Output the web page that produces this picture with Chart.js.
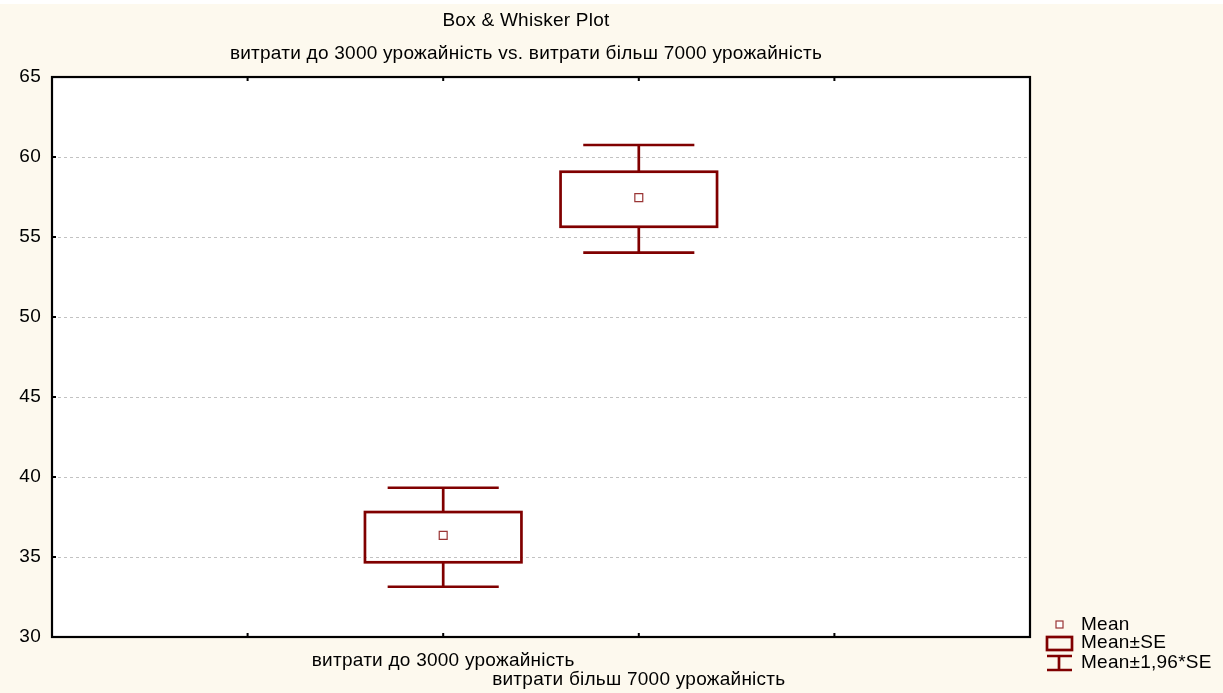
<!DOCTYPE html>
<html><head><meta charset="utf-8">
<script src="https://cdn.jsdelivr.net/npm/chart.js@4.4.1/dist/chart.umd.min.js"></script>
<style>html,body{margin:0;padding:0;background:#fdf9ee;overflow:hidden}#wrap{width:1223px;height:693px}</style>
</head><body><div id="wrap"><canvas id="c"></canvas></div>
<script>
// ---- data ----
const categories = ['витрати до 3000 урожайність', 'витрати більш 7000 урожайність'];
const categoryPositions = [2, 3];
const means  = [36.35, 57.46];
const seLow  = [34.67, 55.64];
const seHigh = [37.81, 59.08];
const ciLow  = [33.14, 54.02];
const ciHigh = [39.33, 60.75];
const yTicks = [30, 35, 40, 45, 50, 55, 60, 65];
const xTicks = [1, 2, 3, 4];
const titleLines = ['Box & Whisker Plot', 'витрати до 3000 урожайність vs. витрати більш 7000 урожайність'];
const legendLabels = ['Mean', 'Mean±SE', 'Mean±1,96*SE'];

// ---- style ----
const RED = '#800000';
const MARK = '#9a3535';
const FONT = "'Liberation Sans', Arial, sans-serif";
const FS = 19;
const BOX_HALF = 0.40, CAP_HALF = 0.284;

const bgPlugin = {
  id: 'bg',
  beforeDraw(chart) {
    const {ctx, chartArea: a} = chart;
    ctx.fillStyle = '#fdf9ee';
    ctx.fillRect(0, 0, chart.width, chart.height);
    ctx.fillStyle = '#ffffff';
    ctx.fillRect(0, 0, chart.width, 4);
    ctx.fillRect(a.left, a.top, a.right - a.left, a.bottom - a.top);
    try { ctx.letterSpacing = '0.25px'; } catch (e) {}
  }
};

const boxPlugin = {
  id: 'boxes',
  beforeDatasetsDraw(chart) {
    const {ctx, scales: {x, y}} = chart;
    ctx.save();
    ctx.strokeStyle = RED;
    ctx.lineWidth = 2.7;
    ctx.lineCap = 'butt';
    categoryPositions.forEach((c, i) => {
      const xc = x.getPixelForValue(c);
      const xl = x.getPixelForValue(c - BOX_HALF), xr = x.getPixelForValue(c + BOX_HALF);
      const cl = x.getPixelForValue(c - CAP_HALF), cr = x.getPixelForValue(c + CAP_HALF);
      const yt = y.getPixelForValue(seHigh[i]), yb = y.getPixelForValue(seLow[i]);
      const wt = y.getPixelForValue(ciHigh[i]), wb = y.getPixelForValue(ciLow[i]);
      ctx.strokeRect(xl, yt, xr - xl, yb - yt);
      ctx.beginPath();
      ctx.moveTo(xc, yt); ctx.lineTo(xc, wt);
      ctx.moveTo(xc, yb); ctx.lineTo(xc, wb);
      ctx.moveTo(cl, wt); ctx.lineTo(cr, wt);
      ctx.moveTo(cl, wb); ctx.lineTo(cr, wb);
      ctx.stroke();
    });
    ctx.restore();
  },
  afterDatasetsDraw(chart) {
    const {ctx, chartArea: a, scales: {x, y}} = chart;
    ctx.save();
    ctx.strokeStyle = '#000';
    ctx.lineWidth = 2;
    ctx.beginPath();
    xTicks.forEach(v => {
      const px = x.getPixelForValue(v);
      ctx.moveTo(px, a.top); ctx.lineTo(px, a.top + 4);
      ctx.moveTo(px, a.bottom); ctx.lineTo(px, a.bottom - 4);
    });
    yTicks.forEach(v => {
      const py = y.getPixelForValue(v);
      ctx.moveTo(a.left, py); ctx.lineTo(a.left + 4, py);
    });
    ctx.stroke();
    ctx.lineWidth = 2.2;
    ctx.strokeRect(a.left, a.top, a.right - a.left, a.bottom - a.top);
    ctx.restore();
  },
  afterDraw(chart) {
    const {ctx, chartArea: a} = chart;
    ctx.save();
    const gx = a.right + 29, tx = a.right + 51;
    const rows = [a.bottom - 12, a.bottom + 6, a.bottom + 26];
    ctx.strokeStyle = MARK; ctx.fillStyle = '#fff'; ctx.lineWidth = 1.2;
    ctx.fillRect(gx - 3, rows[0] - 4, 7, 7);
    ctx.strokeRect(gx - 3, rows[0] - 4, 7, 7);
    ctx.strokeStyle = RED; ctx.lineWidth = 2.7;
    ctx.strokeRect(gx - 12, rows[1] - 6, 25, 13);
    ctx.beginPath();
    ctx.moveTo(gx - 12, rows[2] - 7); ctx.lineTo(gx + 13, rows[2] - 7);
    ctx.moveTo(gx - 12, rows[2] + 7); ctx.lineTo(gx + 13, rows[2] + 7);
    ctx.moveTo(gx, rows[2] - 7); ctx.lineTo(gx, rows[2] + 7);
    ctx.stroke();
    ctx.fillStyle = '#000';
    ctx.font = FS + 'px ' + FONT;
    ctx.textBaseline = 'middle';
    ctx.textAlign = 'left';
    legendLabels.forEach((t, i) => ctx.fillText(t, tx, rows[i]));
    ctx.restore();
  }
};

new Chart(document.getElementById('c'), {
  type: 'scatter',
  data: {
    datasets: [{
      label: legendLabels[0],
      data: categoryPositions.map((c, i) => ({x: c, y: means[i]})),
      pointStyle: 'rect',
      pointRadius: 5.6,
      pointHoverRadius: 5.6,
      pointBackgroundColor: '#fff',
      pointBorderColor: MARK,
      pointBorderWidth: 1.2
    }]
  },
  options: {
    responsive: true,
    maintainAspectRatio: false,
    animation: false,
    layout: {padding: {left: 0, right: 171, top: 0, bottom: 0}},
    plugins: {
      legend: {display: false},
      tooltip: {enabled: false},
      title: {
        display: true,
        text: titleLines,
        color: '#000',
        font: {family: FONT, size: FS, weight: 'normal', lineHeight: 1.74},
        padding: {top: 4.5, bottom: 6.4}
      }
    },
    scales: {
      x: {
        type: 'linear', min: 0, max: 5,
        afterBuildTicks: s => { s.ticks = [0, ...xTicks, 5].map(v => ({value: v})); },
        afterFit: s => { s.height = 56; },
        grid: {display: false, drawTicks: false},
        border: {display: false},
        ticks: {
          autoSkip: false, maxRotation: 0, minRotation: 0, padding: 14.5,
          color: '#000', font: {family: FONT, size: FS, lineHeight: 1.0},
          callback: v => {
            const i = categoryPositions.indexOf(v);
            if (i < 0) return '';
            return i === 0 ? categories[0] : ['', categories[1]];
          }
        }
      },
      y: {
        type: 'linear', min: 30, max: 65,
        afterBuildTicks: s => { s.ticks = yTicks.map(v => ({value: v})); },
        afterFit: s => { s.width = 52; },
        border: {display: false, dash: [3, 3]},
        grid: {
          drawTicks: false,
          color: c => (c.tick && (c.tick.value === 30 || c.tick.value === 65)) ? 'rgba(0,0,0,0)' : '#c2c2c2',
          lineWidth: 1
        },
        ticks: {padding: 11, color: '#000', font: {family: FONT, size: FS}}
      },
      yr: {
        type: 'linear', position: 'right', min: 30, max: 65,
        afterFit: s => { s.width = 22; },
        grid: {display: false, drawTicks: false},
        border: {display: false},
        ticks: {display: false}
      }
    }
  },
  plugins: [bgPlugin, boxPlugin]
});
</script></body></html>
